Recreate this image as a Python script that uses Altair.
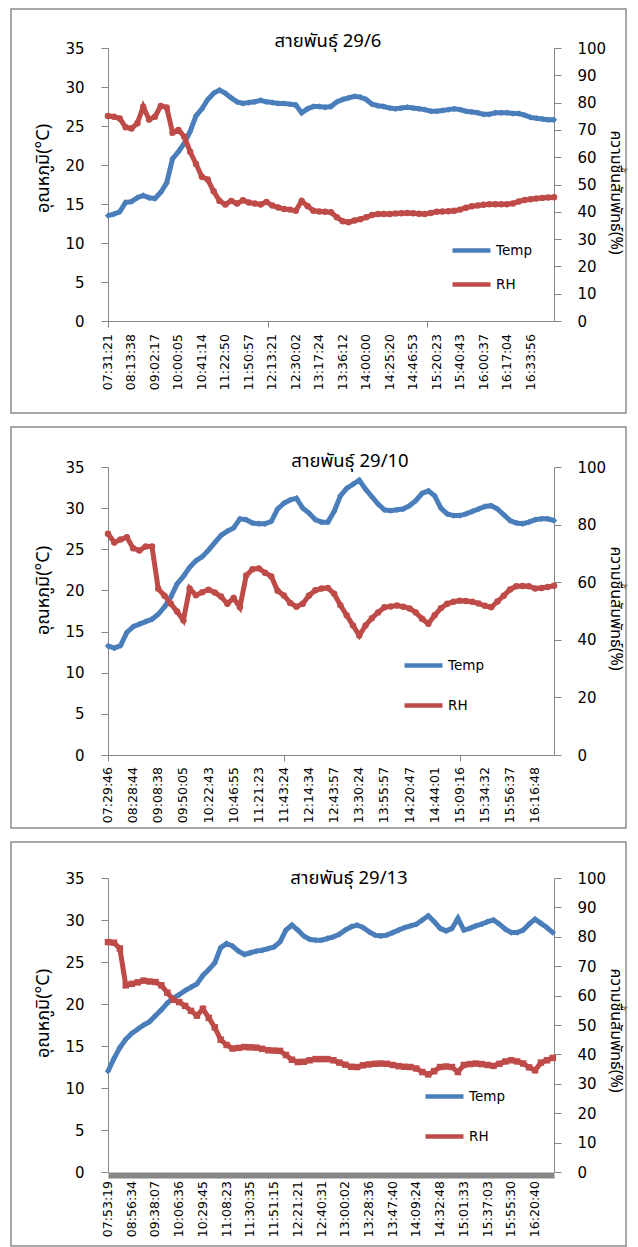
import json
import altair as alt
import pandas as pd

FONT = "DejaVu Sans"
THAI = "Noto Sans Thai, Tahoma, Noto Sans, sans-serif"
BLUE = "#4A7EBB"
RED = "#BE4B48"
GRAY = "#868686"

series_names = ["Temp", "RH"]
left_title = "อุณหภูมิ(°C)"
right_title = "ความชื้นสัมพัทธ์(%)"
panel_titles = ["สายพันธุ์ 29/6", "สายพันธุ์ 29/10", "สายพันธุ์ 29/13"]

# ---------------- panel 1 ----------------
p1_times = ["07:31:21", "08:13:38", "09:02:17", "10:00:05", "10:41:14", "11:22:50",
            "11:50:57", "12:13:21", "12:30:02", "13:17:24", "13:36:12", "14:00:00",
            "14:25:20", "14:46:53", "15:20:23", "15:40:43", "16:00:37", "16:17:04",
            "16:33:56"]
p1_temp = [13.5, 13.7, 14.0, 15.2,
           15.3, 15.8, 16.1, 15.8,
           15.7, 16.5, 17.7, 20.8,
           21.7, 22.8, 24.3, 26.3,
           27.2, 28.4, 29.2, 29.6,
           29.2, 28.6, 28.1, 27.9,
           28.0, 28.1, 28.3, 28.1,
           28.0, 27.9, 27.9, 27.8,
           27.7, 26.7, 27.2, 27.5,
           27.5, 27.4, 27.5, 28.1,
           28.4, 28.6, 28.8, 28.7,
           28.4, 27.8, 27.6, 27.5,
           27.3, 27.2, 27.3, 27.4,
           27.3, 27.2, 27.1, 26.9,
           26.9, 27.0, 27.1, 27.2,
           27.1, 26.9, 26.8, 26.7,
           26.5, 26.5, 26.7, 26.7,
           26.7, 26.6, 26.6, 26.4,
           26.1, 26.0, 25.9, 25.8,
           25.8]
p1_rh = [75.1, 74.8, 74.2, 71.0,
         70.5, 72.4, 78.5, 73.8,
         74.8, 78.8, 78.2, 69.0,
         70.0, 67.5, 62.0, 57.5,
         52.8, 51.8, 47.5, 44.0,
         42.7, 44.0, 43.0, 44.2,
         43.4, 43.0, 42.7, 43.6,
         42.3, 41.6, 41.0, 40.8,
         40.4, 44.0, 42.1, 40.4,
         40.1, 40.0, 39.8, 38.0,
         36.5, 36.2, 36.8, 37.3,
         38.0, 38.8, 39.2, 39.2,
         39.2, 39.4, 39.5, 39.6,
         39.5, 39.3, 39.2, 39.6,
         40.0, 40.1, 40.2, 40.4,
         40.8, 41.5, 42.0, 42.3,
         42.6, 42.8, 42.8, 42.8,
         42.8, 43.0, 43.8, 44.3,
         44.6, 44.9, 45.1, 45.2,
         45.3]
p1_ticks = [0, 6.8, 13.6]

# ---------------- panel 2 ----------------
p2_times = ["07:29:46", "08:28:44", "09:08:38", "09:50:05", "10:22:43", "10:46:55",
            "11:21:23", "11:43:24", "12:14:34", "12:43:57", "13:30:24", "13:55:57",
            "14:20:47", "14:44:01", "15:09:16", "15:34:32", "15:56:37", "16:16:48"]
p2_temp = [13.25, 13.0, 13.3, 14.9,
           15.6, 15.9, 16.2, 16.5,
           17.1, 18.0, 19.2, 20.8,
           21.7, 22.8, 23.6, 24.1,
           24.9, 25.8, 26.7, 27.2,
           27.6, 28.7, 28.6, 28.2,
           28.1, 28.1, 28.4, 29.9,
           30.6, 31.0, 31.2, 30.0,
           29.4, 28.6, 28.3, 28.3,
           29.6, 31.5, 32.4, 32.9,
           33.4, 32.3, 31.4, 30.5,
           29.8, 29.7, 29.8, 29.9,
           30.3, 30.9, 31.8, 32.1,
           31.5, 30.0, 29.3, 29.1,
           29.1, 29.3, 29.6, 29.9,
           30.2, 30.3, 29.9, 29.2,
           28.5, 28.2, 28.1, 28.3,
           28.6, 28.7, 28.7, 28.5]
p2_rh = [76.8, 73.8, 74.8, 75.6,
         71.8, 71.0, 72.4, 72.4,
         57.7, 55.3, 52.5, 49.8,
         46.8, 57.8, 55.5, 56.5,
         57.4, 56.4, 55.0, 52.5,
         54.5, 51.3, 62.3, 64.5,
         64.8, 63.3, 62.0, 57.0,
         55.4, 52.8, 51.5, 52.5,
         55.4, 57.2, 57.8, 58.0,
         56.0, 52.0, 48.5, 45.0,
         41.5, 45.0, 47.5, 49.5,
         51.3, 51.6, 51.9, 51.5,
         50.9, 49.5, 47.3, 45.6,
         48.5, 51.0, 52.5, 53.2,
         53.6, 53.5, 53.2, 52.6,
         51.8, 51.3, 53.3, 55.3,
         57.5, 58.6, 58.7, 58.6,
         57.8, 58.0, 58.3, 58.8]
p2_ticks = [0, 7, 14]

# ---------------- panel 3 ----------------
p3_times = ["07:53:19", "08:56:34", "09:38:07", "10:06:36", "10:29:45", "11:08:23",
            "11:30:35", "11:51:15", "12:21:21", "12:40:31", "13:00:02", "13:28:36",
            "13:47:40", "14:09:24", "14:32:48", "15:01:33", "15:37:03", "15:55:30",
            "16:20:40"]
p3_temp = [12.0, 13.5, 14.8, 15.8,
           16.5, 17.0, 17.5, 17.9,
           18.6, 19.3, 20.1, 20.7,
           21.1, 21.6, 22.0, 22.4,
           23.4, 24.1, 24.9, 26.7,
           27.2, 26.9, 26.3, 25.9,
           26.1, 26.3, 26.4, 26.6,
           26.8, 27.4, 28.8, 29.4,
           28.8, 28.1, 27.7, 27.6,
           27.6, 27.8, 28.0, 28.3,
           28.8, 29.2, 29.4, 29.1,
           28.6, 28.2, 28.1, 28.2,
           28.5, 28.8, 29.1, 29.3,
           29.5, 30.0, 30.5, 29.8,
           29.0, 28.7, 29.0, 30.2,
           28.8, 29.0, 29.3, 29.5,
           29.8, 30.0, 29.5, 28.9,
           28.5, 28.5, 28.8, 29.5,
           30.1, 29.6, 29.1, 28.5]
p3_rh = [78.2, 78.0, 76.0, 63.5,
         64.0, 64.5, 65.1, 64.8,
         64.6, 63.5, 61.0, 58.6,
         57.8, 56.5, 54.8, 53.2,
         55.5, 52.4, 49.2, 45.0,
         43.2, 42.0, 42.2, 42.5,
         42.4, 42.3, 41.9, 41.4,
         41.3, 41.2, 39.8, 38.2,
         37.4, 37.5, 38.0, 38.4,
         38.4, 38.4, 38.0, 37.2,
         36.5, 35.8, 35.7, 36.3,
         36.6, 36.8, 36.9, 36.8,
         36.4, 36.0, 35.8, 35.7,
         35.2, 34.0, 33.2, 34.3,
         35.7, 35.9, 35.7, 34.0,
         36.4, 36.7, 36.9, 36.7,
         36.4, 36.1, 36.8, 37.6,
         38.0, 37.6, 36.9, 35.6,
         34.6, 37.2, 38.0, 38.8]
p3_ticks = []

WIDTH = 446


def panel(title, times, temp, rh, span, rh_step, height, ticks, frame_top, frame_bottom,
          leg_x, leg_y, row_pad, rh_shape, title_dx, title_dy, thick, lab_pad,
          left_ty, right_ty):
    n = len(temp)
    df = pd.DataFrame({"u": [i * 0.25 for i in range(n)], "Temp": temp, "RH": rh})
    labels_df = pd.DataFrame({"u": list(range(len(times))), "t": times})
    xscale = alt.Scale(domain=[0, span], nice=False, zero=False)

    xaxis_kw = dict(labels=False, grid=False, title=None, domainColor=GRAY)
    if thick:
        xaxis_kw.update(ticks=False, domainWidth=6, offset=3, domainCap="butt")
    else:
        xaxis_kw.update(values=list(ticks), ticks=True, tickSize=6, tickColor=GRAY,
                        domainWidth=1)
    xaxis = alt.Axis(**xaxis_kw)
    xenc = alt.X("u:Q", scale=xscale, axis=xaxis)

    color = alt.Color(
        "series:N",
        scale=alt.Scale(domain=series_names, range=[BLUE, RED]),
        legend=alt.Legend(orient="none", legendX=leg_x, legendY=leg_y, title=None,
                          symbolType="stroke", symbolSize=1444, symbolStrokeWidth=4.5,
                          labelFont=FONT, labelFontSize=13.5, labelColor="black",
                          rowPadding=row_pad, labelOffset=3, padding=0),
    )

    frame = alt.Chart(pd.DataFrame({"f": [0]})).mark_rect(
        fill="transparent", stroke="#8C8C8C", strokeWidth=1.5
    ).encode(
        x=alt.value(-97), x2=alt.value(WIDTH + 72),
        y=alt.value(frame_top), y2=alt.value(height + frame_bottom),
    )

    temp_layer = alt.Chart(df).transform_calculate(series="'Temp'").mark_line(
        strokeWidth=5,
        point=alt.OverlayMarkDef(shape="diamond", filled=True, size=40),
    ).encode(
        x=xenc,
        y=alt.Y("Temp:Q", scale=alt.Scale(domain=[0, 35], nice=False),
                axis=alt.Axis(orient="left", values=list(range(0, 36, 5)),
                              title=left_title, titleFont=THAI, titleFontSize=18,
                              titleFontWeight="normal", titleColor="black",
                              titlePadding=12, titleY=left_ty, titleAlign="center",
                              labelFont=FONT, labelFontSize=15,
                              labelColor="black", labelPadding=17, tickSize=7,
                              tickColor=GRAY, domainColor=GRAY, grid=False)),
        color=color,
    )

    rh_layer = alt.Chart(df).transform_calculate(series="'RH'").mark_line(
        strokeWidth=5,
        point=alt.OverlayMarkDef(shape=rh_shape, filled=True, size=42),
    ).encode(
        x=xenc,
        y=alt.Y("RH:Q", scale=alt.Scale(domain=[0, 100], nice=False),
                axis=alt.Axis(orient="right", values=list(range(0, 101, rh_step)),
                              title=right_title, titleFont=THAI, titleFontSize=16,
                              titleFontWeight="normal", titleColor="black",
                              titlePadding=2, titleY=right_ty, titleAlign="center",
                              labelFont=FONT, labelFontSize=15,
                              labelColor="black", labelPadding=16, tickSize=7,
                              tickColor=GRAY, domainColor=GRAY, grid=False)),
        color=color,
    )

    time_labels = alt.Chart(labels_df).mark_text(
        angle=270, align="right", baseline="middle", font=FONT, fontSize=12.5,
        color="black",
    ).encode(
        x=xenc,
        y=alt.value(height + lab_pad),
        text="t:N",
    )

    return alt.layer(frame, temp_layer, rh_layer, time_labels).resolve_scale(
        y="independent"
    ).properties(
        width=WIDTH, height=height,
        title=alt.TitleParams(text=title, font=THAI, fontSize=18.5, fontWeight="normal",
                              color="black", anchor="middle", offset=0,
                              dx=title_dx, dy=title_dy),
    )


p1 = panel(panel_titles[0], p1_times, p1_temp, p1_rh, 19, 10, 273, p1_ticks,
           -39, 92, 342, 181, 3, "circle", -3, 42, False, 13, 120, 144)
p2 = panel(panel_titles[1], p2_times, p2_temp, p2_rh, 17.75, 20, 288, p2_ticks,
           -40, 73, 294, 177, 9, "circle", 19, 44, False, 12, 123, 141)
p3 = panel(panel_titles[2], p3_times, p3_temp, p3_rh, 18.8, 10, 294, p3_ticks,
           -36, 74, 315, 197, 9, "square", 18, 46, True, 9, 135, 152)

chart = alt.vconcat(p1, p2, p3, spacing=12, bounds="full").resolve_scale(
    color="independent"
).properties(
    padding={"left": 2, "top": 0, "right": 3, "bottom": 0}
).configure_view(stroke=None)

chart.save("out.html", embed_options={"renderer": "svg", "actions": False})
